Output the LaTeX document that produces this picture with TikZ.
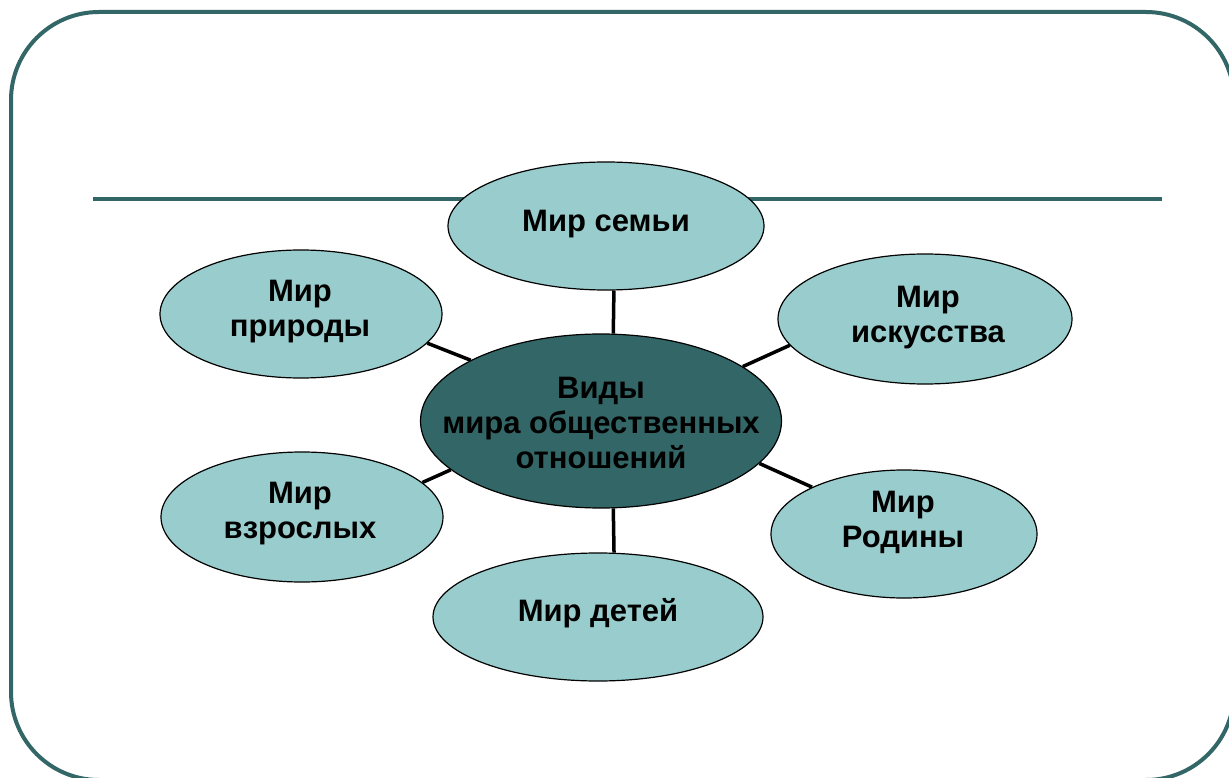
\documentclass[tikz,border=0pt]{standalone}
\usepackage{fontspec}
\setmainfont{Liberation Sans}
\usetikzlibrary{shapes.geometric}
\definecolor{darkteal}{HTML}{336666}
\definecolor{lightteal}{HTML}{99CCCC}
\pgfdeclarelayer{background}
\pgfsetlayers{background,main}
\tikzset{
  frameline/.style={draw=darkteal, line width=4pt},
  outer/.style={ellipse, draw=black, line width=1.2pt, fill=lightteal, inner sep=0pt},
  core/.style={ellipse, draw=black, line width=1.2pt, fill=darkteal, inner sep=0pt},
  lbl/.style={font=\bfseries\fontsize{31}{35}\selectfont, align=center, inner sep=0pt, text=black},
  link/.style={draw=black, line width=3.5pt}
}
\begin{document}
\begin{tikzpicture}[x=1pt,y=-1pt]
\useasboundingbox (0,0) rectangle (1229,778);
\clip (0,0) rectangle (1229,778);

\node[core, minimum width=361pt, minimum height=174pt] (c) at (601,421) {};
\node[outer, minimum width=316pt, minimum height=128pt] (s) at (606,226) {};
\node[outer, minimum width=282pt, minimum height=128pt] (p) at (301,314) {};
\node[outer, minimum width=294pt, minimum height=130pt] (i) at (925,319) {};
\node[outer, minimum width=282pt, minimum height=130pt] (v) at (302,517) {};
\node[outer, minimum width=266pt, minimum height=128pt] (r) at (904,534) {};
\node[outer, minimum width=330pt, minimum height=128pt] (d) at (598,617) {};

\begin{pgfonlayer}{background}
\fill[white] (0,0) rectangle (1229,778);
\draw[frameline, rounded corners=88pt] (11,12) rectangle (1234,780);
\draw[frameline] (93,199) -- (1162,199);
\draw[link] (c.82.1) -- (s.-83.8);
\draw[link] (c.155.3) -- (p.-13.0);
\draw[link] (c.21.9) -- (i.191.9);
\draw[link] (c.198.3) -- (v.16.1);
\draw[link] (c.-15.4) -- (r.153.0);
\draw[link] (c.-82.1) -- (d.76.8);
\end{pgfonlayer}

\node[lbl] (ct) at (601,423) {Виды\\мира общественных\\отношений};
\node[lbl] (st) at (606,224) {Мир семьи};
\node[lbl] (pt) at (300,312) {Мир\\природы};
\node[lbl] (it) at (928,318) {Мир\\искусства};
\node[lbl] (vt) at (300,514) {Мир\\взрослых};
\node[lbl] (rt) at (903,522) {Мир\\Родины};
\node[lbl] (dt) at (598,613) {Мир детей};
\end{tikzpicture}
\end{document}
